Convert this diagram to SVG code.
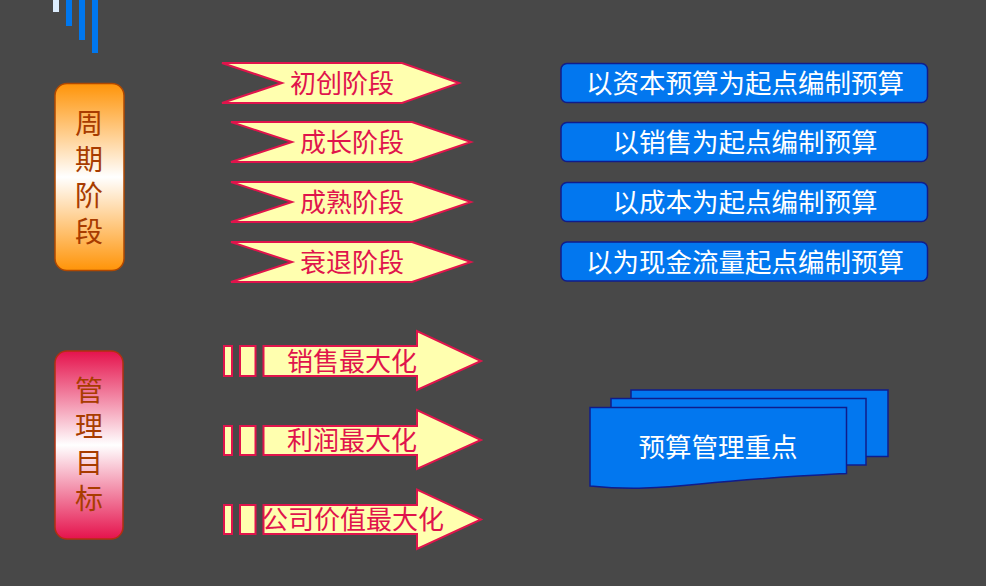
<svg xmlns="http://www.w3.org/2000/svg" width="986" height="586" viewBox="0 0 986 586">
<defs>
<linearGradient id="gOrange" x1="0" y1="0" x2="0" y2="1">
<stop offset="0" stop-color="#FF9408"/>
<stop offset="0.5" stop-color="#FFFFFF"/>
<stop offset="1" stop-color="#FF9408"/>
</linearGradient>
<linearGradient id="gPink" x1="0" y1="0" x2="0" y2="1">
<stop offset="0" stop-color="#E5124C"/>
<stop offset="0.5" stop-color="#FFFFFF"/>
<stop offset="1" stop-color="#E5124C"/>
</linearGradient>
</defs>
<style>
text{font-family:"Noto Sans CJK SC","Noto Sans CJK TC",sans-serif;dominant-baseline:central;text-anchor:middle;}
.vt{font-size:28px;fill:#A83C00;writing-mode:vertical-rl;text-anchor:start;letter-spacing:8px;}
.ar{fill:#FFFFAF;stroke:#E0144C;stroke-width:2;}
.at{font-size:26px;fill:#E0144C;}
.bx{fill:#0277EF;stroke:#101C8A;stroke-width:1.5;}
.bt{font-size:26.5px;fill:#FFFFFF;}
</style>
<rect x="0" y="0" width="986" height="586" fill="#484848"/>
<g id="bars">
<rect x="53" y="0" width="6" height="12" fill="#DDEEFF"/>
<rect x="66" y="0" width="6" height="26" fill="#0077EE"/>
<rect x="79" y="0" width="6" height="40" fill="#0077EE"/>
<rect x="92" y="0" width="6" height="53" fill="#0077EE"/>
</g>
<g id="cycle-stage">
<rect x="55" y="83.5" width="69" height="187" rx="12" fill="url(#gOrange)" stroke="#B04800" stroke-width="1.5"/>
<text class="vt" x="89" y="109">周期阶段</text>
</g>
<g id="mgmt-goal">
<rect x="55" y="351" width="68" height="188" rx="12" fill="url(#gPink)" stroke="#B03010" stroke-width="1.5"/>
<text class="vt" x="89" y="376">管理目标</text>
</g>
<g id="stage1">
<polygon class="ar" points="222,63 402,63 459,83 402,103 222,103 282,83"/>
<text class="at" x="342" y="81.5">初创阶段</text>
</g>
<g id="stage2">
<polygon class="ar" points="231,122 412,122 471,142 412,162 231,162 292,142"/>
<text class="at" x="352" y="140.5">成长阶段</text>
</g>
<g id="stage3">
<polygon class="ar" points="231,182 412,182 471,202 412,222 231,222 292,202"/>
<text class="at" x="352" y="200.5">成熟阶段</text>
</g>
<g id="stage4">
<polygon class="ar" points="231,242 412,242 471,262 412,282 231,282 292,262"/>
<text class="at" x="352" y="260.5">衰退阶段</text>
</g>
<g id="budget1">
<rect class="bx" x="561" y="63.5" width="366.5" height="39" rx="6"/>
<text class="bt" x="745" y="81.5">以资本预算为起点编制预算</text>
</g>
<g id="budget2">
<rect class="bx" x="561" y="122.5" width="366.5" height="39" rx="6"/>
<text class="bt" x="745" y="140.5">以销售为起点编制预算</text>
</g>
<g id="budget3">
<rect class="bx" x="561" y="182.5" width="366.5" height="39" rx="6"/>
<text class="bt" x="745" y="200.5">以成本为起点编制预算</text>
</g>
<g id="budget4">
<rect class="bx" x="561" y="242" width="366.5" height="39" rx="6"/>
<text class="bt" x="745" y="260.5">以为现金流量起点编制预算</text>
</g>
<g id="goal1">
<rect class="ar" x="224" y="346" width="8" height="30"/>
<rect class="ar" x="240" y="346" width="15.5" height="30"/>
<polygon class="ar" points="263.5,346 417,346 417,331 481,361 417,390 417,376 263.5,376"/>
<text class="at" x="352" y="359.5">销售最大化</text>
</g>
<g id="goal2">
<rect class="ar" x="224" y="426" width="8" height="29"/>
<rect class="ar" x="240" y="426" width="15.5" height="29"/>
<polygon class="ar" points="263.5,426 417,426 417,410 481,440 417,469 417,455 263.5,455"/>
<text class="at" x="352" y="438.5">利润最大化</text>
</g>
<g id="goal3">
<rect class="ar" x="224" y="505" width="8" height="29"/>
<rect class="ar" x="240" y="505" width="15.5" height="29"/>
<polygon class="ar" points="263.5,505 417,505 417,489.5 481,519.5 417,549 417,534 263.5,534"/>
<text class="at" x="353" y="517.5">公司价值最大化</text>
</g>
<g id="focus">
<rect class="bx" x="631" y="390" width="257" height="66.5"/>
<rect class="bx" x="611" y="398.5" width="255" height="66.5"/>
<path class="bx" d="M590,407.5 L846.5,407.5 L846.5,473.5 C800,476 760,478 700,484 C660,488 630,490 590,486 Z"/>
<text class="bt" x="718" y="445.5">预算管理重点</text>
</g>
</svg>
